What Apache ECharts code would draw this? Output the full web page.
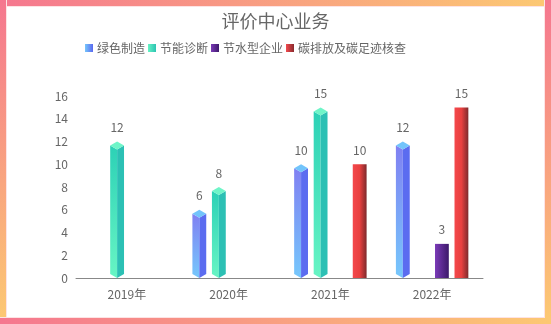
<!DOCTYPE html>
<html>
<head>
<meta charset="utf-8">
<script src="https://cdn.jsdelivr.net/npm/echarts@6/dist/echarts.min.js"></script>
<style>
  html, body { margin: 0; padding: 0; background: #fff; }
  #wrap { position: relative; width: 551px; height: 324px; overflow: hidden; background: #fff; }
  #chart { position: absolute; left: 0; top: 0; width: 551px; height: 324px; }
  .edge { position: absolute; z-index: 2; }
  .edge.top { left: 0; top: 0; width: 545px; height: 6px; background: linear-gradient(to right, #f5778f, #fcc873); box-shadow: 0 1px 0 #fde3e4; }
  .edge.right { right: 0; top: 0; width: 6px; height: 318px; background: linear-gradient(to bottom, #f5778f, #fcc873); box-shadow: -1px 0 0 #fde3e4; }
  .edge.bottom { left: 0; bottom: 0; width: 551px; height: 6px; background: linear-gradient(to right, #f5778f, #fcc873); box-shadow: 0 -1px 0 #fde3e4; }
  .edge.left { left: 0; top: 0; width: 6px; height: 318px; background: linear-gradient(to bottom, #f5778f, #fcc873); box-shadow: 1px 0 0 #fde3e4; }
</style>
</head>
<body>
<div id="wrap">
  <div id="chart"></div>
  <div class="edge top"></div>
  <div class="edge left"></div>
  <div class="edge bottom"></div>
  <div class="edge right"></div>
</div>
<script>
// Business volume by year and service line
const years = ['2019年', '2020年', '2021年', '2022年'];
const seriesNames = ['绿色制造', '节能诊断', '节水型企业', '碳排放及碳足迹核查'];
const greenManufacturing = [null, 6, 10, 12];
const energyDiagnosis = [12, 8, 15, null];
const waterSavingEnterprise = [null, null, null, 3];
const carbonVerification = [null, null, 10, 15];
const yTicks = { min: 0, max: 16, interval: 2 };

const FONT = '"Noto Sans CJK SC", "Noto Sans", sans-serif';
const TEXT_COLOR = '#666';

const lg = (x2, y2, stops) => new echarts.graphic.LinearGradient(0, 0, x2, y2,
  stops.map((c, i) => ({ offset: i / (stops.length - 1), color: c })));

// Palette per series: cube faces or flat gradient
const styles = [
  { kind: 'cube', legend: ['#76c6fb', '#5a69ef'], left: ['#8080f2', '#76c8fc'], right: '#5b6cf0', top: '#72c4fb' },
  { kind: 'cube', legend: ['#66f3c4', '#2cc3b3'], left: ['#2cd1b6', '#68f5c4'], right: '#2cc0b4', top: '#6ff5c8' },
  { kind: 'flat', legend: ['#7a3ab6', '#3e1a6c'], flat: ['#7b3bb8', '#3c196a'] },
  { kind: 'flat', legend: ['#f24a4e', '#8a2a2e'], flat: ['#f4484c', '#e8403f', '#7e2a2c'] }
];

const values = [greenManufacturing, energyDiagnosis, waterSavingEnterprise, carbonVerification];

function makeRender(idx) {
  const st = styles[idx];
  return function (params, api) {
    const cat = api.value(0);
    const v = api.value(1);
    const base = api.coord([cat, 0]);
    const topPt = api.coord([cat, v]);
    const band = api.size([1, 0])[0];
    const slot = band * 0.192;
    const hw = band * 0.068;
    const cx = base[0] + (idx - 1.5) * slot;
    const by = base[1];
    const vy = topPt[1];
    const children = [];
    if (st.kind === 'cube') {
      const dy = 4;
      children.push({
        type: 'polygon',
        shape: { points: [[cx - hw, vy + dy], [cx, vy + 2 * dy], [cx, by], [cx - hw, by - dy]] },
        style: { fill: lg(0, 1, st.left) }
      });
      children.push({
        type: 'polygon',
        shape: { points: [[cx, vy + 2 * dy], [cx + hw, vy + dy], [cx + hw, by - dy], [cx, by]] },
        style: { fill: st.right }
      });
      children.push({
        type: 'polygon',
        shape: { points: [[cx, vy], [cx + hw, vy + dy], [cx, vy + 2 * dy], [cx - hw, vy + dy]] },
        style: { fill: st.top }
      });
    } else {
      children.push({
        type: 'rect',
        shape: { x: cx - hw, y: vy, width: hw * 2, height: by - vy },
        style: { fill: lg(1, 0, st.flat) }
      });
    }
    children.push({
      type: 'text',
      style: {
        text: String(v), x: cx, y: vy - 8, align: 'center', verticalAlign: 'bottom',
        fill: TEXT_COLOR, font: '12px ' + FONT
      }
    });
    return { type: 'group', children };
  };
}

const chart = echarts.init(document.getElementById('chart'));
chart.setOption({
  backgroundColor: 'transparent',
  animation: false,
  textStyle: { fontFamily: FONT },
  title: {
    text: '评价中心业务', left: 'center', top: 7,
    textStyle: { fontSize: 18, fontWeight: 'normal', color: '#666', fontFamily: FONT }
  },
  legend: {
    left: 80, top: 37, itemWidth: 8, itemHeight: 8, itemGap: 3,
    icon: 'rect',
    textStyle: { color: TEXT_COLOR, fontSize: 12, padding: [0, 0, 0, -1] },
    data: seriesNames
  },
  grid: { left: 76, right: 68, top: 96, bottom: 46 },
  xAxis: {
    type: 'category', data: years,
    axisLine: { lineStyle: { color: '#888' } },
    axisTick: { show: false },
    axisLabel: { color: TEXT_COLOR, fontSize: 12, margin: 10 }
  },
  yAxis: {
    type: 'value', min: yTicks.min, max: yTicks.max, interval: yTicks.interval,
    axisLine: { show: false }, axisTick: { show: false }, splitLine: { show: false },
    axisLabel: { color: TEXT_COLOR, fontSize: 12 }
  },
  series: seriesNames.map((name, i) => ({
    name,
    type: 'custom',
    renderItem: makeRender(i),
    itemStyle: { color: lg(1, 0, styles[i].legend) },
    encode: { x: 0, y: 1 },
    data: values[i].map((v, k) => [k, v]).filter(d => d[1] != null)
  }))
});
</script>
</body>
</html>
